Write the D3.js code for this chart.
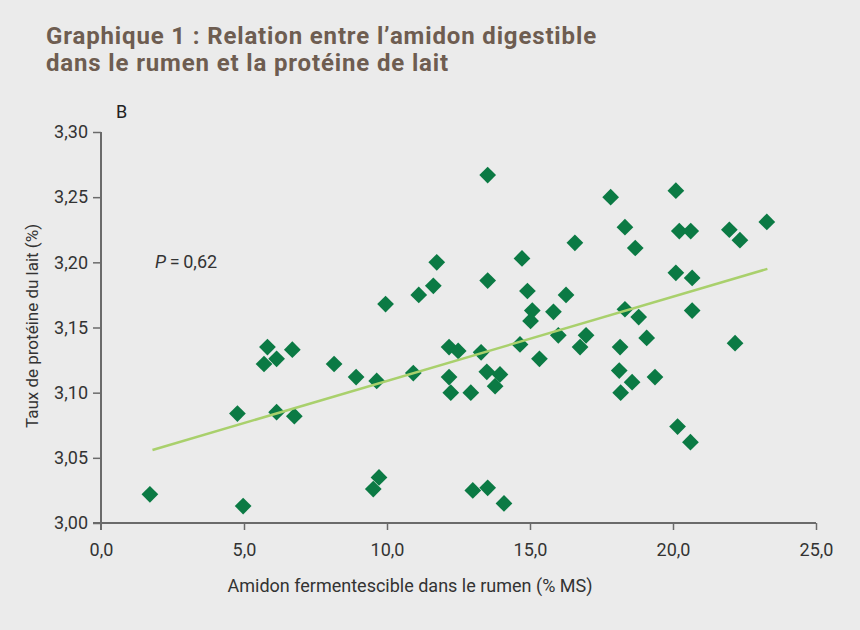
<!DOCTYPE html>
<html>
<head>
<meta charset="utf-8">
<script src="https://cdn.jsdelivr.net/npm/d3@7"></script>
<style>
  html, body { margin: 0; padding: 0; background: #ebebeb; }
  svg { display: block; }
</style>
</head>
<body>
<div id="chart"></div>
<script>
// Amidon fermentescible (% MS) vs taux de protéine du lait (%)
const amidon = [
  1.71, 4.97, 4.77, 5.82, 5.70, 6.14, 6.69, 6.14, 6.76,
  13.52, 11.74, 11.62, 11.11, 9.95, 13.52, 14.72, 14.91, 15.08, 15.02, 15.82, 15.99,
  8.15, 8.92, 9.64, 10.92, 12.17, 12.49, 13.29, 14.65, 15.33, 12.17, 12.23, 12.93,
  13.49, 13.95, 13.78, 9.72, 9.52, 13.00, 13.52, 14.09,
  17.82, 20.10, 18.32, 18.68, 16.57, 20.22, 20.62, 21.97, 22.34, 23.28, 20.10, 20.67,
  20.67, 16.26, 18.32, 18.80, 16.96, 16.75, 19.08, 18.15, 22.17, 18.12, 18.57, 18.17,
  19.37, 20.16, 20.61
];
const proteine = [
  3.022, 3.013, 3.084, 3.135, 3.122, 3.126, 3.133, 3.085, 3.082,
  3.267, 3.200, 3.182, 3.175, 3.168, 3.186, 3.203, 3.178, 3.163, 3.155, 3.162, 3.144,
  3.122, 3.112, 3.109, 3.115, 3.135, 3.132, 3.131, 3.137, 3.126, 3.112, 3.100, 3.100,
  3.116, 3.114, 3.105, 3.035, 3.026, 3.025, 3.027, 3.015,
  3.250, 3.255, 3.227, 3.211, 3.215, 3.224, 3.224, 3.225, 3.217, 3.231, 3.192, 3.188,
  3.163, 3.175, 3.164, 3.158, 3.144, 3.135, 3.142, 3.135, 3.138, 3.117, 3.108, 3.100,
  3.112, 3.074, 3.062
];
const trendX = [1.8, 23.3];
const trendY = [3.056, 3.195];
const xTicks = [0, 5, 10, 15, 20, 25];
const yTicks = [3.00, 3.05, 3.10, 3.15, 3.20, 3.25, 3.30];

const width = 860, height = 630;
const margin = { top: 132, right: 44, bottom: 107, left: 101 };
const fmtX = d => d.toFixed(1).replace('.', ',');
const fmtY = d => d.toFixed(2).replace('.', ',');

const svg = d3.select('#chart').append('svg')
  .attr('width', width)
  .attr('height', height);

svg.append('rect').attr('width', width).attr('height', height).attr('fill', '#ebebeb');

const font = 'Roboto, sans-serif';
const textColor = '#333';
const axisColor = '#6a6a6a';

// Title
const title = svg.append('text')
  .attr('fill', '#6e5d51')
  .attr('font-family', font)
  .attr('font-weight', 700)
  .attr('font-size', '24px')
  .attr('letter-spacing', '0.85px');
title.append('tspan').attr('x', 46).attr('y', 44).text('Graphique 1 : Relation entre l’amidon digestible');
title.append('tspan').attr('x', 46).attr('y', 71).text('dans le rumen et la protéine de lait');

const x = d3.scaleLinear().domain([0, 25]).range([margin.left, width - margin.right]);
const y = d3.scaleLinear().domain([3.0, 3.3]).range([height - margin.bottom, margin.top]);
const y0 = y(3.0);

// X axis
const gx = svg.append('g')
  .attr('transform', `translate(0,${y0})`)
  .call(d3.axisBottom(x).tickValues(xTicks).tickSize(7).tickSizeOuter(0).tickFormat(fmtX));
gx.select('.domain').remove();
gx.append('line').attr('x1', x(0) - 8).attr('x2', x(25)).attr('stroke', axisColor).attr('stroke-width', 2);
gx.selectAll('.tick line').attr('stroke', axisColor).attr('stroke-width', 1.5);
gx.selectAll('.tick').filter(d => d === 0).select('line').remove();
gx.selectAll('.tick text')
  .attr('y', 20)
  .attr('fill', textColor)
  .attr('font-family', font)
  .attr('font-size', '18px');

// Y axis
const gy = svg.append('g')
  .attr('transform', `translate(${margin.left},0)`)
  .call(d3.axisLeft(y).tickValues(yTicks).tickSize(8).tickSizeOuter(0).tickFormat(fmtY));
gy.select('.domain').remove();
gy.append('line').attr('y1', y(3.3)).attr('y2', y0 + 7).attr('stroke', axisColor).attr('stroke-width', 2);
gy.selectAll('.tick line').attr('stroke', axisColor).attr('stroke-width', 1.5);
gy.selectAll('.tick text')
  .attr('x', -13)
  .attr('fill', textColor)
  .attr('font-family', font)
  .attr('font-size', '18px');

// Axis titles
svg.append('text')
  .attr('x', 410)
  .attr('y', 592)
  .attr('text-anchor', 'middle')
  .attr('fill', textColor)
  .attr('font-family', font)
  .attr('font-size', '18px')
  .text('Amidon fermentescible dans le rumen (% MS)');

svg.append('text')
  .attr('transform', `translate(38,326) rotate(-90)`)
  .attr('text-anchor', 'middle')
  .attr('fill', textColor)
  .attr('font-family', font)
  .attr('font-size', '17px')
  .text('Taux de protéine du lait (%)');

svg.append('text')
  .attr('x', 116).attr('y', 118)
  .attr('fill', '#222')
  .attr('font-family', font)
  .attr('font-size', '18px')
  .text('B');

const pText = svg.append('text')
  .attr('x', 155).attr('y', 268)
  .attr('fill', textColor)
  .attr('font-family', font)
  .attr('font-size', '18px');
pText.append('tspan').attr('font-style', 'italic').text('P');
pText.append('tspan').text('\u2009=\u20090,62');

// Points
const points = amidon.map((v, i) => ({ x: v, y: proteine[i] }));
svg.append('g').selectAll('path')
  .data(points)
  .enter()
  .append('path')
  .attr('d', d3.symbol(d3.symbolSquare, 140))
  .attr('transform', d => `translate(${x(d.x)},${y(d.y)}) rotate(45)`)
  .attr('fill', '#0b7a44');

// Trend line
const trend = trendX.map((v, i) => [v, trendY[i]]);
svg.append('path')
  .datum(trend)
  .attr('d', d3.line().x(d => x(d[0])).y(d => y(d[1])))
  .attr('stroke', '#a9d06c')
  .attr('stroke-width', 2.5)
  .attr('fill', 'none');
</script>
</body>
</html>
